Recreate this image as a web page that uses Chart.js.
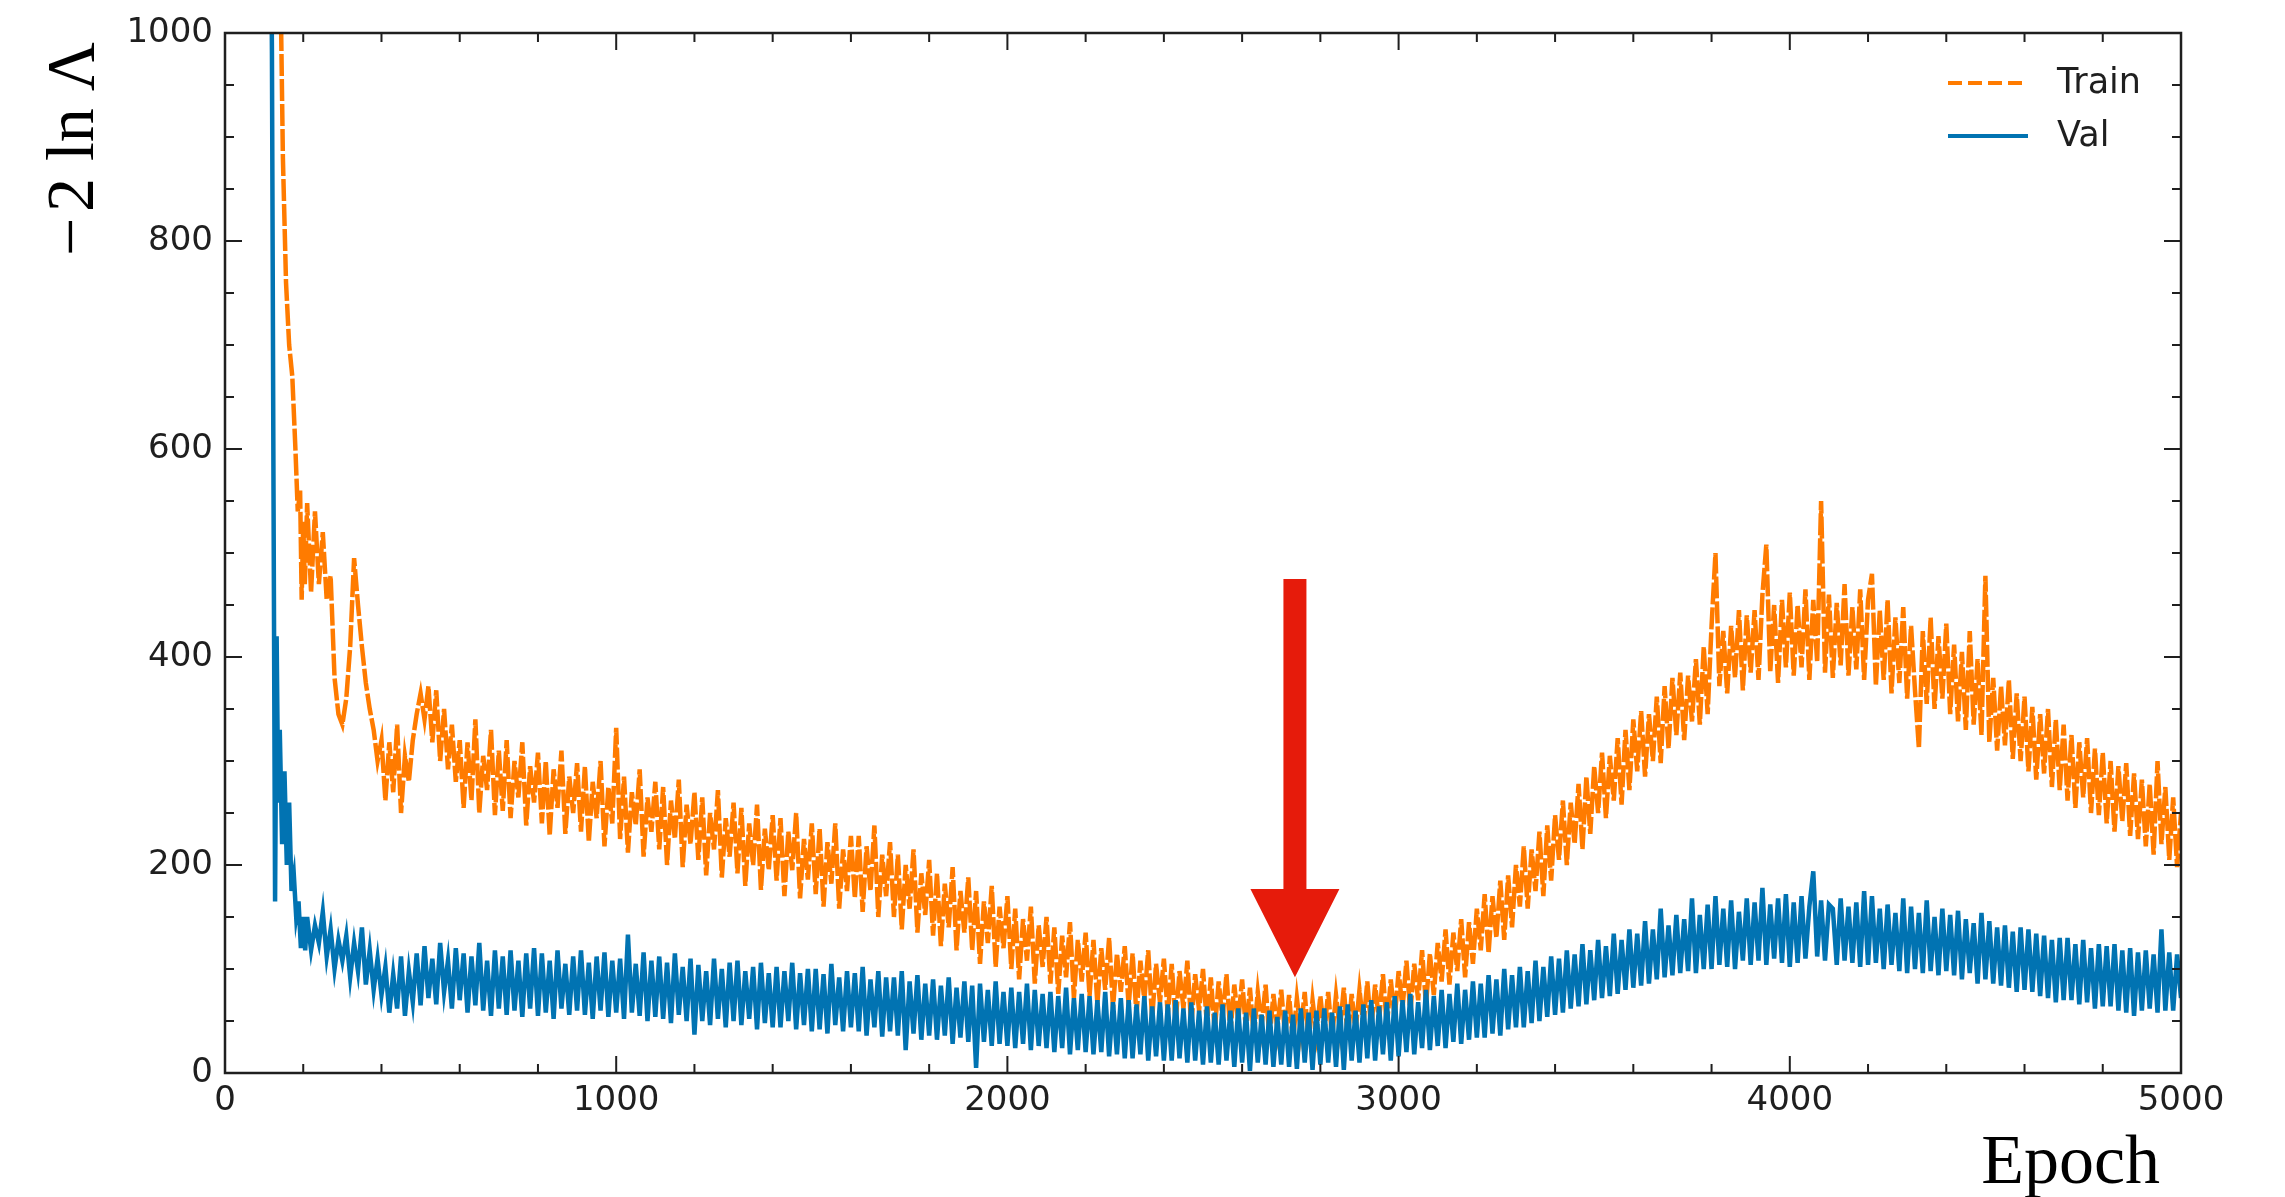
<!DOCTYPE html>
<html>
<head>
<meta charset="utf-8">
<title>Train / Val</title>
<script src="https://cdn.jsdelivr.net/npm/chart.js@4.4.1/dist/chart.umd.min.js"></script>
<style>
  html, body { margin: 0; padding: 0; background: #fff; }
  canvas { display: block; }
</style>
</head>
<body>
<canvas id="lossChart" width="2285" height="1197"></canvas>
<script>
// first epochs, where both curves come down from above the top of the axis
const trainEarlyEpochs = [140, 148, 156, 164, 172, 180, 186, 192, 196, 200, 204];
const trainEarly = [1100, 880, 760, 700, 670, 600, 540, 560, 455, 530, 470];
const valEarlyEpochs = [116, 120, 124, 128, 132, 136, 140, 146, 152, 158, 164, 170, 176, 182, 188, 194, 200, 205];
const valEarly = [1200, 980, 560, 165, 420, 260, 330, 220, 290, 200, 260, 175, 190, 150, 165, 120, 150, 118];

// epochs 210, 220, ... 5000 (read every 10 epochs)
const gridStart = 210;
const gridStep = 10;

const trainLoss = [
  548, 462, 540, 470, 520, 455, 478, 380, 345, 335,
  360, 410, 495, 450, 410, 375, 350, 330, 300, 320,
  262, 318, 270, 335, 250, 305, 280, 320, 345, 365,
  340, 372, 318, 368, 300, 350, 292, 335, 280, 320,
  255, 318, 262, 340, 250, 305, 272, 330, 248, 310,
  252, 320, 245, 300, 265, 318, 238, 295, 260, 308,
  240, 300, 228, 292, 255, 310, 230, 285, 250, 298,
  232, 295, 222, 280, 245, 300, 218, 275, 240, 332,
  225, 285, 212, 270, 238, 292, 208, 265, 232, 280,
  215, 275, 200, 262, 225, 282, 198, 258, 220, 270,
  205, 265, 190, 250, 215, 272, 188, 245, 208, 260,
  192, 255, 180, 240, 200, 258, 176, 235, 195, 248,
  185, 245, 170, 232, 195, 250, 168, 225, 186, 240,
  172, 235, 160, 222, 182, 240, 158, 215, 175, 228,
  168, 228, 155, 218, 175, 238, 150, 210, 170, 222,
  150, 210, 138, 200, 158, 215, 135, 192, 152, 205,
  132, 192, 122, 182, 140, 198, 118, 175, 135, 188,
  118, 175, 105, 165, 125, 180, 102, 160, 120, 170,
  100, 158, 90, 148, 108, 160, 86, 142, 102, 150,
  86, 140, 76, 132, 92, 145, 72, 128, 88, 135,
  74, 128, 66, 120, 80, 130, 62, 115, 78, 122,
  64, 115, 56, 108, 70, 118, 52, 105, 68, 110,
  56, 105, 48, 98, 62, 108, 45, 95, 60, 100,
  46, 92, 40, 88, 52, 95, 38, 85, 50, 90,
  40, 82, 35, 78, 45, 85, 32, 76, 42, 80,
  35, 75, 30, 72, 40, 78, 28, 70, 38, 74,
  38, 78, 34, 75, 42, 82, 32, 76, 40, 80,
  46, 88, 42, 85, 50, 95, 44, 90, 52, 98,
  62, 108, 58, 105, 70, 118, 65, 115, 75, 125,
  88, 138, 85, 135, 98, 148, 92, 145, 105, 158,
  118, 172, 115, 170, 130, 185, 128, 190, 140, 200,
  160, 218, 158, 215, 175, 232, 170, 238, 185, 248,
  205, 262, 200, 260, 220, 278, 215, 285, 230, 295,
  250, 308, 245, 305, 262, 322, 258, 330, 272, 340,
  290, 348, 285, 345, 300, 362, 298, 372, 312, 380,
  325, 385, 320, 382, 338, 398, 335, 410, 345, 430,
  500, 372, 425, 365, 430, 380, 445, 368, 440, 385,
  445, 378, 460, 508, 385, 450, 375, 455, 390, 462,
  382, 450, 390, 465, 378, 455, 395, 550, 385, 460,
  380, 452, 392, 470, 382, 448, 388, 465, 378, 455,
  480, 372, 445, 378, 455, 365, 438, 375, 448, 360,
  430, 368, 312, 425, 355, 438, 350, 420, 360, 432,
  345, 412, 338, 405, 330, 425, 335, 398, 325, 478,
  318, 380, 310, 372, 315, 378, 302, 365, 300, 362,
  290, 352, 282, 345, 288, 350, 275, 340, 272, 335,
  262, 325, 255, 318, 265, 322, 250, 312, 248, 308,
  240, 300, 232, 295, 242, 298, 228, 288, 225, 282,
  218, 278, 210, 300, 220, 275, 205, 265, 198, 250
];

const valLoss = [
  150, 118, 142, 125, 155, 112, 138, 100, 128, 108,
  132, 92, 125, 98, 140, 85, 118, 80, 110, 75,
  102, 58, 95, 62, 112, 55, 98, 68, 115, 65,
  122, 72, 110, 66, 125, 78, 108, 62, 120, 70,
  115, 58, 112, 65, 125, 60, 108, 55, 118, 62,
  112, 56, 118, 60, 108, 54, 115, 62, 120, 55,
  115, 58, 108, 52, 118, 62, 105, 56, 112, 60,
  118, 56, 106, 52, 112, 60, 116, 54, 108, 58,
  110, 52, 133, 58, 105, 55, 116, 50, 108, 54,
  112, 52, 106, 48, 115, 56, 102, 50, 110, 37,
  104, 50, 98, 46, 110, 52, 100, 44, 106, 50,
  108, 46, 98, 52, 102, 42, 106, 48, 96, 44,
  102, 44, 98, 50, 106, 42, 96, 46, 100, 40,
  100, 42, 95, 38, 105, 46, 92, 40, 98, 44,
  96, 40, 102, 36, 90, 44, 98, 35, 92, 40,
  92, 36, 98, 22, 88, 38, 94, 32, 86, 36,
  90, 32, 84, 36, 92, 28, 82, 34, 88, 30,
  84, 5, 86, 30, 80, 26, 88, 28, 78, 26,
  82, 24, 78, 28, 86, 22, 80, 26, 76, 24,
  78, 20, 74, 24, 82, 18, 72, 22, 76, 20,
  74, 18, 70, 20, 78, 16, 68, 18, 72, 14,
  70, 14, 66, 18, 74, 12, 64, 16, 68, 12,
  66, 12, 70, 14, 62, 10, 68, 12, 60, 8,
  64, 10, 58, 8, 66, 12, 60, 6, 62, 10,
  58, 2, 62, 10, 56, 8, 60, 6, 54, 8,
  60, 6, 56, 4, 62, 10, 58, 3, 60, 8,
  62, 10, 58, 6, 64, 3, 66, 12, 60, 10,
  66, 14, 70, 12, 64, 18, 68, 12, 74, 16,
  70, 20, 76, 18, 68, 24, 80, 22, 74, 26,
  80, 24, 76, 30, 86, 28, 80, 32, 88, 34,
  86, 34, 94, 38, 90, 36, 100, 42, 94, 44,
  102, 44, 98, 48, 108, 50, 102, 54, 112, 56,
  110, 58, 118, 62, 114, 64, 124, 66, 118, 70,
  128, 72, 122, 74, 134, 76, 128, 80, 138, 82,
  134, 84, 146, 86, 138, 90, 158, 92, 142, 94,
  152, 96, 148, 98, 168, 96, 152, 100, 162, 100,
  170, 104, 158, 102, 166, 100, 155, 108, 168, 104,
  164, 108, 178, 104, 162, 110, 168, 106, 172, 102,
  164, 106, 170, 110, 160, 194, 112, 166, 108, 162,
  158, 104, 168, 108, 160, 106, 164, 102, 175, 104,
  170, 106, 158, 100, 162, 104, 154, 98, 168, 96,
  160, 100, 154, 96, 166, 98, 150, 94, 158, 98,
  152, 94, 156, 90, 148, 96, 144, 86, 154, 90,
  146, 86, 140, 84, 142, 82, 136, 78, 140, 80,
  138, 78, 134, 74, 132, 72, 128, 68, 130, 70,
  130, 70, 124, 66, 128, 68, 120, 62, 124, 64,
  122, 64, 124, 60, 118, 58, 120, 55, 116, 60,
  118, 62, 114, 58, 138, 60, 116, 60, 114, 72
];

// arrow marking the chosen epoch
const arrowEpoch = 2735;
const arrowTop = 475;
const arrowHeadBase = 177;
const arrowTip = 92;

const trainColor = '#ff7b00';
const valColor = '#0173b2';
const arrowColor = '#e61b0b';
const axisColor = '#1f1f1f';

function toPoints(epochs, values) {
  return epochs.map((e, i) => ({ x: e, y: values[i] }));
}

const gridEpochs = trainLoss.map((_, i) => gridStart + i * gridStep);
const trainPoints = toPoints(trainEarlyEpochs.concat(gridEpochs), trainEarly.concat(trainLoss));
const valPoints = toPoints(valEarlyEpochs.concat(gridEpochs), valEarly.concat(valLoss));

const framePlugin = {
    id: 'frame',
    afterDraw(chart) {
        const { ctx, chartArea: a, scales: { x, y } } = chart;
        ctx.save();

        // arrow
        const ax = x.getPixelForValue(arrowEpoch);
        const yTop = y.getPixelForValue(arrowTop);
        const yBase = y.getPixelForValue(arrowHeadBase);
        const yTip = y.getPixelForValue(arrowTip);
        ctx.fillStyle = arrowColor;
        ctx.beginPath();
        ctx.moveTo(ax - 11.5, yTop);
        ctx.lineTo(ax + 11.5, yTop);
        ctx.lineTo(ax + 11.5, yBase);
        ctx.lineTo(ax + 44.5, yBase);
        ctx.lineTo(ax, yTip);
        ctx.lineTo(ax - 44.5, yBase);
        ctx.lineTo(ax - 11.5, yBase);
        ctx.closePath();
        ctx.fill();

        // box and inward ticks
        ctx.strokeStyle = axisColor;
        ctx.lineWidth = 2.5;
        ctx.strokeRect(a.left, a.top, a.right - a.left, a.bottom - a.top);
        ctx.lineWidth = 2;
        ctx.beginPath();
        for (let v = 0; v <= 5000; v += 200) {
            const px = x.getPixelForValue(v);
            const len = v % 1000 === 0 ? 17 : 9;
            ctx.moveTo(px, a.bottom);
            ctx.lineTo(px, a.bottom - len);
            ctx.moveTo(px, a.top);
            ctx.lineTo(px, a.top + len);
        }
        for (let v = 0; v <= 1000; v += 50) {
            const py = y.getPixelForValue(v);
            const len = v % 200 === 0 ? 17 : 9;
            ctx.moveTo(a.left, py);
            ctx.lineTo(a.left + len, py);
            ctx.moveTo(a.right, py);
            ctx.lineTo(a.right - len, py);
        }
        ctx.stroke();

        // legend
        ctx.font = '35px "DejaVu Sans"';
        ctx.textBaseline = 'middle';
        ctx.textAlign = 'left';
        chart.data.datasets.forEach((ds, i) => {
            const ly = 83 + i * 53;
            ctx.strokeStyle = ds.borderColor;
            ctx.lineWidth = 4;
            ctx.setLineDash(ds.borderDash ? [14, 6] : []);
            ctx.beginPath();
            ctx.moveTo(1948, ly);
            ctx.lineTo(2028, ly);
            ctx.stroke();
            ctx.setLineDash([]);
            ctx.fillStyle = axisColor;
            ctx.fillText(ds.label, 2057, ly + 1);
        });

        // axis titles
        ctx.fillStyle = '#000';
        ctx.font = '70px "Liberation Serif"';
        ctx.textAlign = 'right';
        ctx.textBaseline = 'alphabetic';
        ctx.fillText('Epoch', 2160, 1183);

        ctx.translate(93, 149);
        ctx.rotate(-Math.PI / 2);
        ctx.textAlign = 'center';
        ctx.font = '68px "Liberation Serif"';
        ctx.fillText('\u2212\u200a2 ln \u039b', 0, 0);
        ctx.restore();
    }
};

const ctx = document.getElementById('lossChart').getContext('2d');
const chart = new Chart(ctx, {
    type: 'line',
    data: {
        datasets: [
            {
                label: 'Train',
                data: trainPoints,
                borderColor: trainColor,
                borderWidth: 4.5,
                borderDash: [22, 3],
                pointRadius: 0,
                tension: 0,
                fill: false,
                order: 1,
            },
            {
                label: 'Val',
                data: valPoints,
                borderColor: valColor,
                borderWidth: 4.5,
                pointRadius: 0,
                tension: 0,
                fill: false,
                order: 0,
            },
        ],
    },
    options: {
        responsive: false,
        animation: false,
        layout: { padding: { top: 33, right: 104, left: 0, bottom: 0 } },
        plugins: {
            legend: { display: false },
            tooltip: { enabled: false },
        },
        scales: {
            x: {
                type: 'linear',
                min: 0,
                max: 5000,
                grid: { display: false, drawTicks: false },
                border: { display: false },
                ticks: {
                    stepSize: 1000,
                    padding: 8,
                    maxRotation: 0,
                    color: axisColor,
                    font: { family: 'DejaVu Sans', size: 34 },
                    callback: (value) => String(value),
                },
                afterFit: (scale) => { scale.height = 124; },
            },
            y: {
                type: 'linear',
                min: 0,
                max: 1000,
                grid: { display: false, drawTicks: false },
                border: { display: false },
                ticks: {
                    stepSize: 200,
                    padding: 12,
                    color: axisColor,
                    font: { family: 'DejaVu Sans', size: 34 },
                    callback: (value) => String(value),
                },
                afterFit: (scale) => { scale.width = 225; },
            },
        },
    },
    plugins: [framePlugin],
});
</script>
</body>
</html>
